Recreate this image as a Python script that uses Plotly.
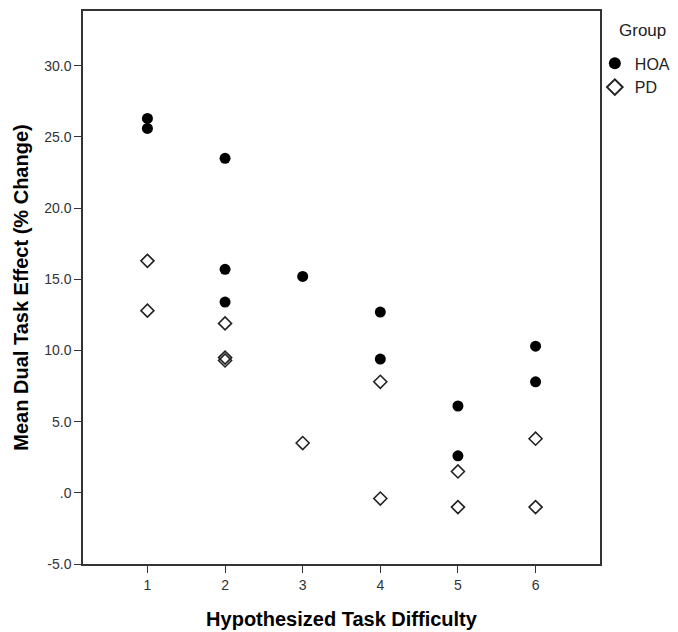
import plotly.graph_objects as go

# Data
hoa_x = [1, 1, 2, 2, 2, 3, 4, 4, 5, 5, 6, 6]
hoa_y = [26.3, 25.6, 23.5, 15.7, 13.4, 15.2, 12.7, 9.4, 6.1, 2.6, 10.3, 7.8]
pd_x = [1, 1, 2, 2, 2, 3, 4, 4, 5, 5, 6, 6]
pd_y = [16.3, 12.8, 11.9, 9.5, 9.3, 3.5, 7.8, -0.4, 1.5, -1.0, 3.8, -1.0]

x_ticks = [1, 2, 3, 4, 5, 6]
y_ticks = [-5, 0, 5, 10, 15, 20, 25, 30]
y_tick_labels = ["-5.0", ".0", "5.0", "10.0", "15.0", "20.0", "25.0", "30.0"]

FONT = "Liberation Sans, Arial, sans-serif"

fig = go.Figure()
fig.add_trace(go.Scatter(
    x=hoa_x, y=hoa_y, mode="markers", name="HOA",
    marker=dict(symbol="circle", size=11, color="black",
                line=dict(width=0)),
))
fig.add_trace(go.Scatter(
    x=pd_x, y=pd_y, mode="markers", name="PD",
    marker=dict(symbol="diamond-open", size=10, color="#222222",
                line=dict(width=1.6, color="#222222")),
))

axis_common = dict(
    showline=True, linecolor="#333333", linewidth=1.5, mirror=True,
    showgrid=False, zeroline=False,
    ticks="outside", ticklen=7, tickwidth=1.3, tickcolor="#333333",
    tickfont=dict(family=FONT, size=14, color="#333333"),
)

# margins compensate for the page's default 8px body margin
fig.update_layout(
    width=678, height=632,
    margin=dict(l=75, r=86, t=1, b=76),
    paper_bgcolor="white", plot_bgcolor="white",
    font=dict(family=FONT, color="black"),
    xaxis=dict(
        range=[0.17, 6.83], tickvals=x_ticks,
        title=dict(text="<b>Hypothesized Task Difficulty</b>",
                   font=dict(family=FONT, size=20, color="black"), standoff=20),
        **axis_common,
    ),
    yaxis=dict(
        range=[-5, 33.85], tickvals=y_ticks, ticktext=y_tick_labels,
        title=dict(text="<b>Mean Dual Task Effect (% Change)</b>",
                   font=dict(family=FONT, size=20, color="black"), standoff=10),
        **axis_common,
    ),
    showlegend=True,
    legend=dict(
        font=dict(family=FONT, size=16, color="#222222"),
        x=0.99, xanchor="left", y=0.936, yanchor="top",
        bgcolor="rgba(0,0,0,0)", borderwidth=0,
        tracegroupgap=0, itemsizing="constant",
    ),
    annotations=[dict(
        text="Group", xref="paper", yref="paper",
        x=1.033, xanchor="left", y=0.986, yanchor="top",
        showarrow=False, font=dict(family=FONT, size=17, color="#222222"),
    )],
)

fig.write_html("out.html")
